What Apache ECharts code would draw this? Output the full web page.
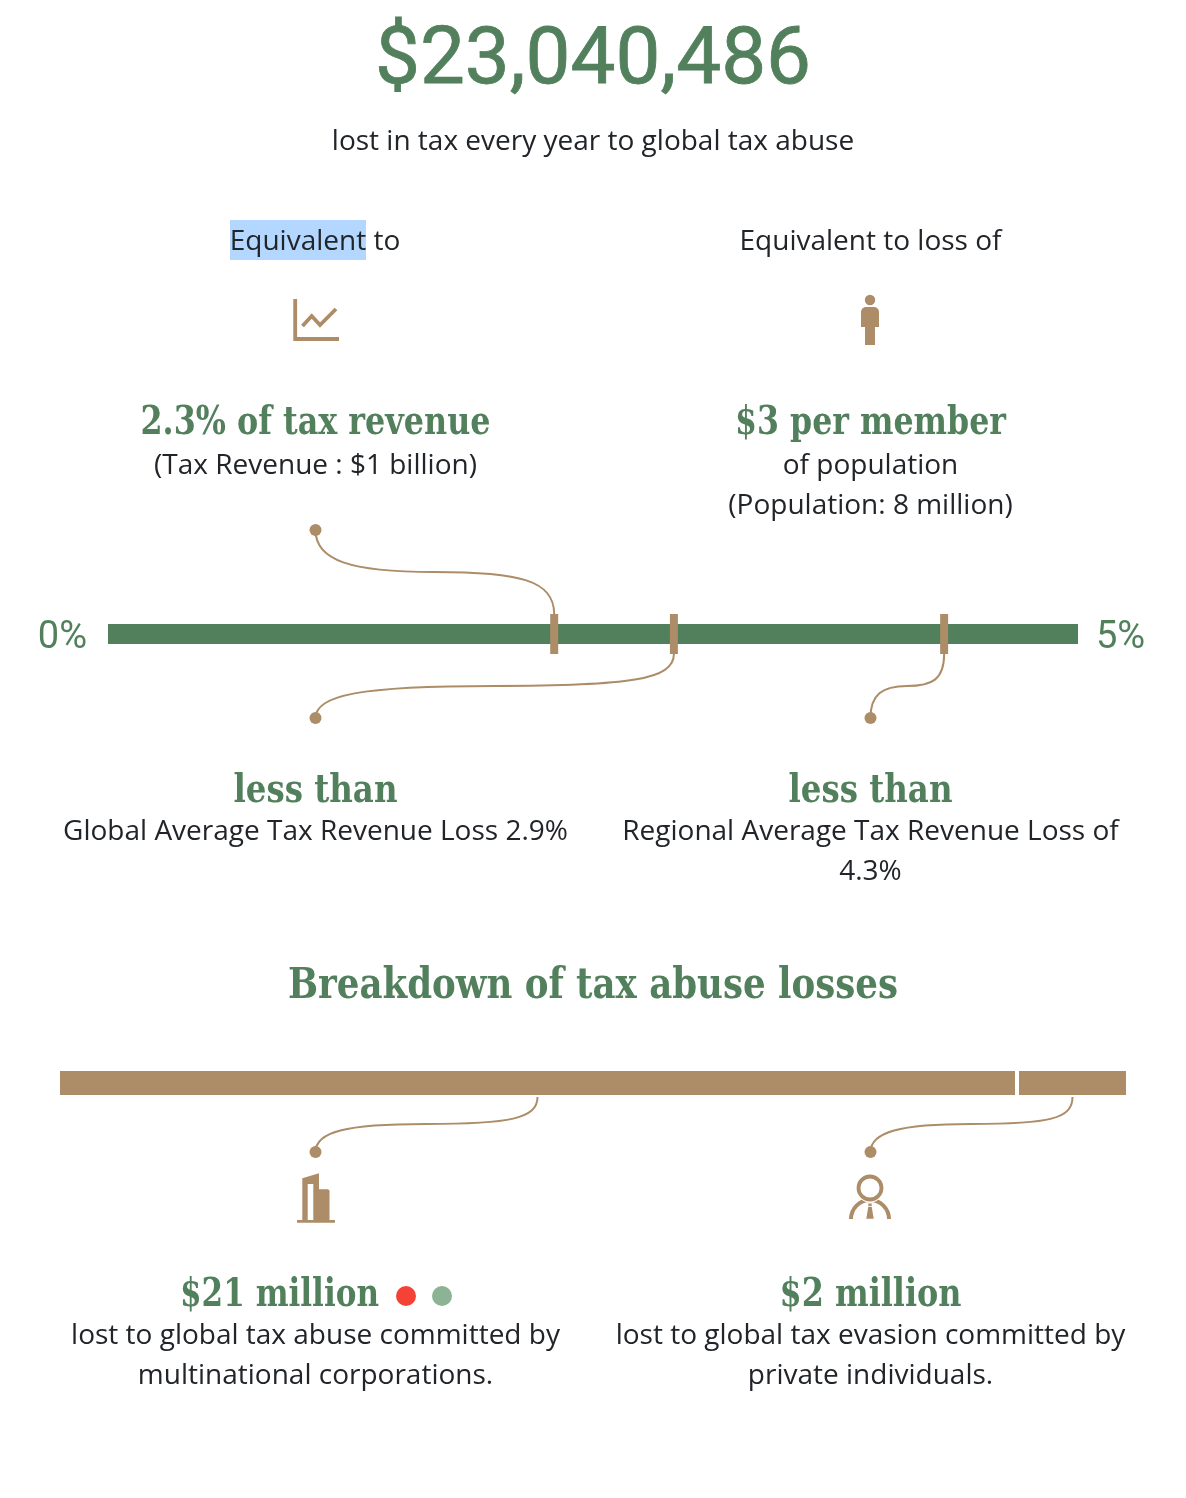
<!DOCTYPE html>
<html>
<head>
<meta charset="utf-8">
<style>html,body{margin:0;padding:0;background:#fff}#c{width:1186px;height:1498px}</style>
<script src="https://cdn.jsdelivr.net/npm/echarts@6/dist/echarts.min.js"></script>
</head>
<body>
<div id="c"></div>
<script>
// ---- data ----
const totalLoss = '$23,040,486';
const rateRange = [0, 5];
const rateTicks = ['0%', '5%'];
const rateBar = [5];
const rateMarkers = [2.3, 2.917, 4.31];
const lossLabels = ['multinational corporations', 'private individuals'];
const lossValues = [20.65, 2.39];
const lossTotal = 23.04;

const GREEN = '#52805c', TAN = '#ad8c68', INK = '#212529';
const SLAB = '"DejaVu Serif Condensed","DejaVu Serif",serif', OPEN = '"Open Sans",sans-serif', ROBOTO = 'Roboto,sans-serif';

const chart = echarts.init(document.getElementById('c'), null, {renderer: 'canvas'});
chart.setOption({
  animation: false,
  backgroundColor: '#fff',
  grid: [
    {left: 108, width: 970, top: 614, height: 40},
    {left: 58, width: 1070, top: 1063, height: 40}
  ],
  xAxis: [
    {gridIndex: 0, type: 'value', min: rateRange[0], max: rateRange[1], show: false},
    {gridIndex: 1, type: 'value', min: 0, max: lossTotal, show: false}
  ],
  yAxis: [
    {gridIndex: 0, type: 'category', data: ['rate'], show: false},
    {gridIndex: 1, type: 'category', data: ['loss'], show: false}
  ],
  series: [
    {type: 'bar', xAxisIndex: 0, yAxisIndex: 0, data: rateBar, barWidth: 20, silent: true, itemStyle: {color: GREEN}},
    {type: 'scatter', xAxisIndex: 0, yAxisIndex: 0, data: rateMarkers.map(v => [v, 0]), symbol: 'rect', symbolSize: [8, 40], silent: true, z: 5, itemStyle: {color: TAN, opacity: 1}},
    ...lossValues.map((v, i) => ({
      type: 'bar', name: lossLabels[i], xAxisIndex: 1, yAxisIndex: 1, stack: 'loss', data: [v], barWidth: 28, silent: true,
      itemStyle: {color: TAN, borderColor: '#fff', borderWidth: 2}
    }))
  ]
});

const px = (grid, v) => chart.convertToPixel({xAxisIndex: grid}, v);
const barY = [634, 1083];

function txt(x, y, text, fam, size, weight, fill, align) {
  return {type: 'text', z: 10, silent: true, style: {
    x, y, text, fill, font: (weight ? weight + ' ' : '') + size + 'px ' + fam,
    textAlign: align || 'center', textVerticalAlign: 'middle'
  }};
}
const mctx = document.createElement('canvas').getContext('2d');
// slab heading squeezed horizontally to the width it has in the picture
function slab(x, y, text, size, targetWidth, align) {
  const font = 'bold ' + size + 'px ' + SLAB;
  mctx.font = font;
  const k = targetWidth / mctx.measureText(text).width;
  return {type: 'text', z: 10, silent: true, x, y, scaleX: k, style: {
    x: 0, y: 0, text, fill: GREEN, font, textAlign: align || 'center', textVerticalAlign: 'middle'
  }};
}
function bez(x1, y1, c1x, c1y, c2x, c2y, x2, y2) {
  return {type: 'bezierCurve', z: 10, silent: true,
    shape: {x1, y1, x2, y2, cpx1: c1x, cpy1: c1y, cpx2: c2x, cpy2: c2y},
    style: {fill: null, stroke: TAN, lineWidth: 2}};
}
// S-shaped connector from a dot to an anchor on a bar
function connector(dx, dy, ax, ay, flatY, mx, inDx, outDx) {
  return [
    bez(dx, dy, dx, dy + (flatY - dy) * 0.72, mx - inDx, flatY, mx, flatY),
    bez(mx, flatY, mx + outDx, flatY, ax, flatY + (ay - flatY) * 0.2, ax, ay),
    {type: 'circle', z: 10, silent: true, shape: {cx: dx, cy: dy, r: 6}, style: {fill: TAN}}
  ];
}
const filled = {fill: TAN};
const m = rateMarkers.map(v => px(0, v));
const a0 = px(1, lossValues[0] / 2), a1 = px(1, lossValues[0] + lossValues[1] / 2);

const titleText = txt(593, 63, totalLoss, ROBOTO, 80, '', GREEN);
titleText.style.stroke = GREEN;
titleText.style.lineWidth = 0.8;

const graphics = [
  titleText,
  txt(593, 142, 'lost in tax every year to global tax abuse', OPEN, 28, '', INK),
  {type: 'rect', z: 10, silent: true, shape: {x: 230, y: 220, width: 136, height: 40}, style: {fill: '#b3d7ff'}},
  txt(315, 242, 'Equivalent to', OPEN, 28, '', INK),
  txt(870.5, 242, 'Equivalent to loss of', OPEN, 28, '', INK),
  // line-chart icon
  {type: 'polyline', z: 10, silent: true, shape: {points: [[295.2, 299], [295.2, 339], [339, 339]]}, style: {fill: null, stroke: TAN, lineWidth: 3.8}},
  {type: 'polyline', z: 10, silent: true, shape: {points: [[302.5, 326], [311.7, 316], [320, 325], [336, 309]]}, style: {fill: null, stroke: TAN, lineWidth: 3.8}},
  // person icon
  {type: 'circle', z: 10, silent: true, shape: {cx: 870, cy: 300, r: 5.2}, style: filled},
  {type: 'rect', z: 10, silent: true, shape: {x: 861, y: 307, width: 18, height: 20, r: [5, 5, 0, 0]}, style: filled},
  {type: 'rect', z: 10, silent: true, shape: {x: 865, y: 326, width: 10, height: 19}, style: filled},
  slab(315.5, 424, '2.3% of tax revenue', 39, 350),
  txt(315.5, 466, '(Tax Revenue : $1 billion)', OPEN, 28, '', INK),
  slab(870.5, 424, '$3 per member', 39, 271),
  txt(870.5, 466, 'of population', OPEN, 28, '', INK),
  txt(870.5, 506, '(Population: 8 million)', OPEN, 28, '', INK),
  // range labels
  txt(px(0, rateRange[0]) - 21, barY[0] + 4, rateTicks[0], ROBOTO, 38, '', GREEN, 'right'),
  txt(px(0, rateRange[1]) + 18, barY[0] + 4, rateTicks[1], ROBOTO, 38, '', GREEN, 'left'),
  // connectors on rate bar
  ...connector(315.5, 530, m[0], 614, 572, 434, 84, 86),
  ...connector(315.5, 718, m[1], 654, 686, 494, 134, 136),
  ...connector(870.5, 718, m[2], 654, 686, 907, 25, 25),
  slab(315.5, 792, 'less than', 39, 164),
  txt(315.5, 832, 'Global Average Tax Revenue Loss 2.9%', OPEN, 28, '', INK),
  slab(870.5, 792, 'less than', 39, 164),
  txt(870.5, 832, 'Regional Average Tax Revenue Loss of', OPEN, 28, '', INK),
  txt(870.5, 872, '4.3%', OPEN, 28, '', INK),
  slab(593, 987, 'Breakdown of tax abuse losses', 43, 610),
  // connectors on breakdown bar
  ...connector(315.5, 1152, a0, 1097, 1124, 426, 81, 84),
  ...connector(870.5, 1152, a1, 1097, 1124, 971, 71, 79),
  // building icon
  {type: 'polygon', z: 10, silent: true, shape: {points: [[302.3, 1178.3], [319, 1173.3], [319, 1220], [302.3, 1220]]}, style: filled},
  {type: 'rect', z: 10, silent: true, shape: {x: 307.7, y: 1184, width: 5.6, height: 36}, style: {fill: '#fff'}},
  {type: 'rect', z: 10, silent: true, shape: {x: 318.5, y: 1189.3, width: 11, height: 31, r: [0, 2, 0, 0]}, style: filled},
  {type: 'rect', z: 10, silent: true, shape: {x: 297, y: 1220, width: 38, height: 2.8}, style: filled},
  // business person icon
  {type: 'arc', z: 10, silent: true, shape: {cx: 870, cy: 1219, r: 19, startAngle: Math.PI, endAngle: Math.PI * 2, clockwise: true}, style: {fill: null, stroke: TAN, lineWidth: 4}},
  {type: 'circle', z: 10, silent: true, shape: {cx: 870, cy: 1188, r: 14.4}, style: {fill: '#fff'}},
  {type: 'circle', z: 10, silent: true, shape: {cx: 870, cy: 1188, r: 11.5}, style: {fill: null, stroke: TAN, lineWidth: 3.8}},
  {type: 'polygon', z: 10, silent: true, shape: {points: [[868.3, 1206.7], [871.7, 1206.7], [873.7, 1218.7], [866.3, 1218.7]]}, style: filled},
  {type: 'rect', z: 10, silent: true, shape: {x: 868.3, y: 1203.5, width: 3.4, height: 2.4}, style: filled},
  // breakdown captions
  slab(180, 1296, '$21 million', 39, 199, 'left'),
  {type: 'circle', z: 10, silent: true, shape: {cx: 406, cy: 1296, r: 10}, style: {fill: '#f44336'}},
  {type: 'circle', z: 10, silent: true, shape: {cx: 442, cy: 1296, r: 10}, style: {fill: '#8bb394'}},
  txt(315.5, 1336, 'lost to global tax abuse committed by', OPEN, 28, '', INK),
  txt(315.5, 1376, 'multinational corporations.', OPEN, 28, '', INK),
  slab(870.5, 1296, '$2 million', 39, 182),
  txt(870.5, 1336, 'lost to global tax evasion committed by', OPEN, 28, '', INK),
  txt(870.5, 1376, 'private individuals.', OPEN, 28, '', INK)
];
chart.setOption({graphic: {elements: graphics}});
</script>
</body>
</html>
